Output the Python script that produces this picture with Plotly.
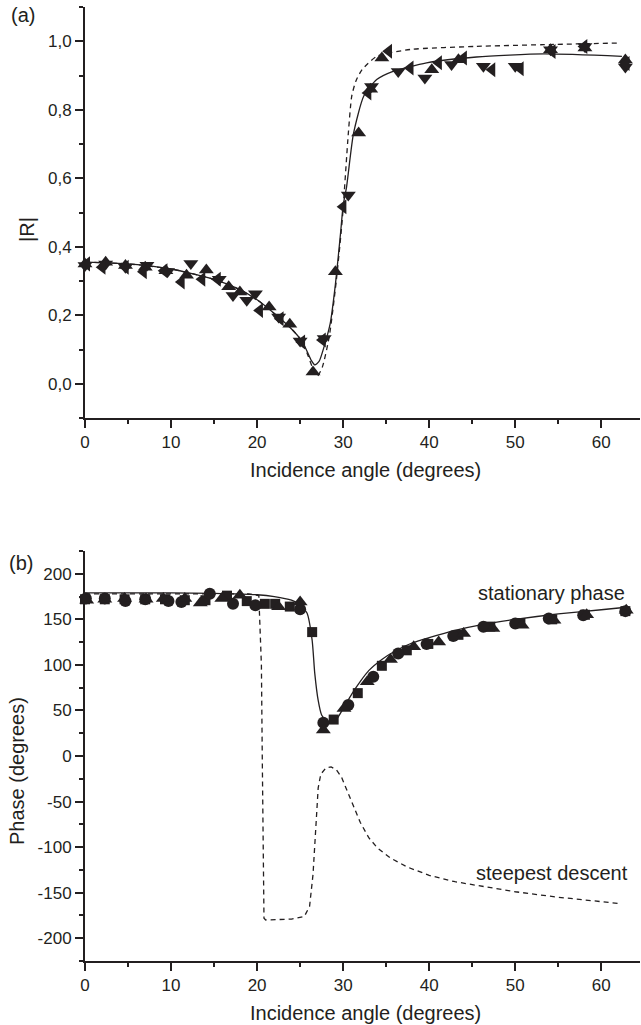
import plotly.graph_objects as go

# ---------------- panel (a): |R| ----------------
up_x = [0, 2.4, 4.7, 7.0, 9.4, 11.8, 14.1, 16.7, 18.0, 21.4, 23.8, 26.5, 29.1, 31.8, 33.2, 34.5, 40.3, 43.4, 54.1, 58.1, 62.8]
up_y = [0.35, 0.355, 0.345, 0.34, 0.33, 0.317, 0.332, 0.283, 0.268, 0.224, 0.174, 0.034, 0.327, 0.732, 0.86, 0.951, 0.917, 0.946, 0.975, 0.98, 0.945]

down_x = [0, 2.4, 4.7, 7.2, 9.6, 12.3, 15.6, 17.2, 18.8, 19.8, 22.5, 25.0, 27.8, 30.6, 33.3, 36.4, 39.5, 42.6, 46.3, 50.0, 54.1, 58.1, 62.8]
down_y = [0.345, 0.35, 0.34, 0.346, 0.328, 0.351, 0.305, 0.258, 0.244, 0.263, 0.195, 0.125, 0.132, 0.551, 0.868, 0.912, 0.893, 0.932, 0.927, 0.927, 0.975, 0.985, 0.925]

left_x = [0.2, 2.0, 4.7, 6.8, 9.2, 11.2, 13.6, 15.4, 20.3, 22.7, 25.2, 27.6, 30.0, 32.9, 35.3, 37.8, 41.1, 44.0, 47.3, 50.6, 54.3, 58.0, 62.9]
left_y = [0.35, 0.34, 0.34, 0.327, 0.33, 0.297, 0.305, 0.305, 0.214, 0.19, 0.122, 0.128, 0.517, 0.849, 0.971, 0.922, 0.937, 0.951, 0.917, 0.92, 0.97, 0.985, 0.935]

fit_a_x = [0, 5, 10, 15, 18, 20, 22, 24, 25.2, 25.8, 26.3, 26.7, 27.2, 27.9, 28.5, 29.1, 29.7, 30.0, 30.4, 31.2, 32.4, 33.9, 35.8, 39.7, 45.5, 53.3, 62.4]
fit_a_y = [0.355, 0.35, 0.335, 0.305, 0.275, 0.245, 0.205, 0.16, 0.125, 0.095, 0.068, 0.055, 0.065, 0.118, 0.176, 0.29, 0.44, 0.52, 0.575, 0.73, 0.84, 0.888, 0.912, 0.937, 0.954, 0.963, 0.956]

sd_a_x = [0, 5, 10, 15, 18, 20, 22, 24, 25.2, 25.8, 26.4, 27.0, 27.6, 28.4, 29.2, 29.9, 30.6, 31.0, 31.5, 32.2, 33.9, 37.8, 45.5, 53.3, 62.2]
sd_a_y = [0.355, 0.35, 0.335, 0.305, 0.275, 0.245, 0.205, 0.16, 0.125, 0.09, 0.05, 0.022, 0.05, 0.14, 0.3, 0.48, 0.73, 0.84, 0.885, 0.917, 0.956, 0.976, 0.985, 0.99, 0.995]

# ---------------- panel (b): phase ----------------
sq_x = [0, 2.3, 4.6, 7.0, 9.3, 11.6, 14.0, 16.5, 18.8, 20.9, 22.1, 23.8, 26.4, 28.9, 31.7, 34.5, 37.4, 39.9, 43.4, 47.1, 50.6, 54.3, 58.1, 62.8]
sq_y = [172, 172, 172, 172, 172, 171, 171, 176, 170, 167, 167, 164, 136, 40, 69, 99, 116, 123, 133, 142, 146, 150, 155, 159]

ci_x = [0.1, 2.3, 4.7, 7.0, 9.7, 11.2, 14.5, 17.2, 19.8, 25.0, 27.7, 30.6, 33.5, 36.4, 39.7, 42.8, 46.3, 50.0, 53.9, 57.9, 62.8]
ci_y = [173, 173, 170, 172, 170, 169, 178, 167, 165.5, 161, 36.5, 56, 87, 112.6, 122.8, 131.6, 141.8, 145.5, 151, 154.6, 159]

tr_x = [0.2, 2.3, 4.6, 7.1, 9.1, 11.6, 13.4, 15.9, 18.0, 22.5, 25.0, 27.7, 30.1, 32.8, 35.5, 38.2, 41.1, 44.0, 47.4, 50.8, 54.5, 58.3, 62.9]
tr_y = [171, 172, 173, 172, 173, 173, 168, 173, 176.5, 163.7, 169, 28.5, 52, 81.5, 106, 120, 125, 134.5, 140, 143.6, 149, 155, 160]

fit_b_x = [0, 10, 15, 20, 22, 24, 25, 25.8, 26.4, 26.7, 27.1, 27.5, 28.0, 28.5, 29.2, 30.0, 31.0, 32.0, 33.0, 34.5, 36.0, 38.0, 40.0, 43.0, 46.0, 50.0, 55.0, 60.0, 62.6]
fit_b_y = [179, 179, 178.5, 177, 175, 171, 166, 157, 127, 91, 61, 45, 39, 37, 40, 52, 68, 82, 94, 106, 115, 124, 130, 138, 144, 150, 156, 160.5, 163]

sd_b_x = [0, 10, 15, 19, 20.2, 20.5, 20.6, 20.7, 20.8, 21.0, 24.0, 25.5, 26.1, 26.5, 26.8, 27.1, 27.4, 28.0, 28.6, 29.2, 29.8, 30.5, 31.2, 32.0, 33.0, 34.0, 35.5, 37.5, 40.0, 43.0, 46.0, 50.0, 55.0, 60.0, 62.2]
sd_b_y = [178, 178, 178, 178, 176, 100, 0, -100, -178, -180, -179, -176, -165, -130, -80, -35, -20, -13, -12, -15, -23, -38, -55, -73, -90, -101, -112, -122, -131, -138, -143, -149, -155, -160, -162]

xticks = [0, 10, 20, 30, 40, 50, 60]
ya_ticks = [0.0, 0.2, 0.4, 0.6, 0.8, 1.0]
ya_text = ["0,0", "0,2", "0,4", "0,6", "0,8", "1,0"]
yb_ticks = [-200, -150, -100, -50, 0, 50, 100, 150, 200]
yb_text = ["-200", "-150", "-100", "-50", "0", "50", "100", "150", "200"]

INK = "#231f20"
FONT = "Liberation Sans, Arial, sans-serif"

fig = go.Figure()

def add_markers(x, y, symbol, size, xa, ya):
    fig.add_trace(go.Scatter(x=x, y=y, mode="markers", xaxis=xa, yaxis=ya,
                             marker=dict(symbol=symbol, size=size, color=INK, line=dict(width=0)),
                             cliponaxis=False, showlegend=False))

def add_line(x, y, dash, xa, ya, shape="spline"):
    fig.add_trace(go.Scatter(x=x, y=y, mode="lines", xaxis=xa, yaxis=ya,
                             line=dict(color=INK, width=1.3, dash=dash, shape=shape, smoothing=0.6),
                             cliponaxis=False, showlegend=False))

# panel a
add_line(sd_a_x, sd_a_y, "5px,4px", "x", "y")
add_line(fit_a_x, fit_a_y, "solid", "x", "y")
add_markers(up_x, up_y, "triangle-up", 13, "x", "y")
add_markers(down_x, down_y, "triangle-down", 13, "x", "y")
add_markers(left_x, left_y, "triangle-left", 13, "x", "y")

# panel b
add_line(sd_b_x, sd_b_y, "5px,4px", "x2", "y2", shape="linear")
add_line(fit_b_x, fit_b_y, "solid", "x2", "y2")
add_markers(sq_x, sq_y, "square", 10, "x2", "y2")
add_markers(ci_x, ci_y, "circle", 12, "x2", "y2")
add_markers(tr_x, tr_y, "triangle-up", 13, "x2", "y2")

W, H = 641, 1025
ML, MR, MT, MB = 85, 1, 7, 64
PW = W - ML - MR
PH = H - MT - MB

def px2y(py):
    return (H - MB - py) / PH

def px2x(px):
    return (px - ML) / PW

axis_common = dict(showgrid=False, zeroline=False, showline=True, linecolor=INK, linewidth=2,
                   ticks="outside", ticklen=8, tickwidth=1.6, tickcolor=INK,
                   tickfont=dict(family=FONT, size=17, color=INK), mirror=False)

xa = dict(axis_common, range=[0, 64.5], tickmode="array", tickvals=xticks,
          minor=dict(ticks="outside", ticklen=4, tickwidth=1.6, tickcolor=INK, dtick=5, tick0=0))

fig.update_layout(
    width=W, height=H,
    margin=dict(l=ML, r=MR, t=MT, b=MB),
    paper_bgcolor="white", plot_bgcolor="white",
    font=dict(family=FONT, color=INK),
    xaxis=dict(xa, anchor="y", domain=[0, 1]),
    yaxis=dict(axis_common, range=[-0.1, 1.1], domain=[px2y(418), 1.0], anchor="x",
               tickmode="array", tickvals=ya_ticks, ticktext=ya_text,
               minor=dict(ticks="outside", ticklen=4, tickwidth=1.6, tickcolor=INK, dtick=0.1, tick0=0)),
    xaxis2=dict(xa, anchor="y2", domain=[0, 1]),
    yaxis2=dict(axis_common, range=[-225, 225], domain=[0, px2y(551)], anchor="x2",
                tickmode="array", tickvals=yb_ticks, ticktext=yb_text,
                minor=dict(ticks="outside", ticklen=4, tickwidth=1.6, tickcolor=INK, dtick=25, tick0=0)),
)

def ann(text, cx, cy, size=20, angle=0):
    fig.add_annotation(text=text, x=px2x(cx), y=px2y(cy), xref="paper", yref="paper",
                       xanchor="center", yanchor="middle", showarrow=False, textangle=angle,
                       font=dict(family=FONT, size=size, color=INK))

ann("(a)", 23, 15)
ann("(b)", 21, 563)
ann("|R|", 27, 230, angle=-90)
ann("Phase (degrees)", 17, 771, angle=-90)
ann("Incidence angle (degrees)", 365, 470)
ann("Incidence angle (degrees)", 365, 1013)
ann("stationary phase", 551, 593)
ann("steepest descent", 552, 873)

fig.write_html("out.html")
